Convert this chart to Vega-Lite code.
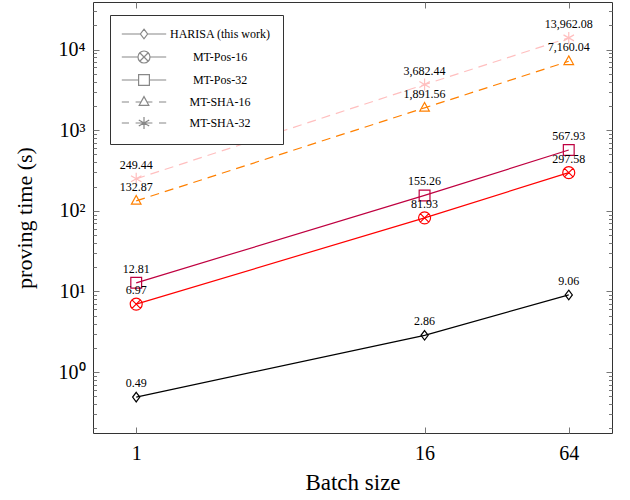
{
  "$schema": "https://vega.github.io/schema/vega-lite/v6.json",
  "width": 519,
  "height": 431,
  "autosize": "none",
  "padding": {"left": 93, "top": 2, "right": 18, "bottom": 67},
  "background": "white",
  "config": {
    "font": "Liberation Serif",
    "view": {"stroke": "#333", "strokeWidth": 1},
    "axis": {
      "grid": false,
      "domain": false,
      "ticks": true,
      "tickColor": "#777",
      "tickWidth": 1,
      "zindex": 1,
      "labelColor": "#000",
      "titleColor": "#000",
      "labelFontSize": 20,
      "titleFontSize": 22,
      "titleFontWeight": "normal",
      "labelFont": "Liberation Serif",
      "titleFont": "Liberation Serif",
      "labelOverlap": false,
      "labelFlush": false
    },
    "legend": {
      "title": null,
      "orient": "none",
      "legendX": 17,
      "legendY": 13,
      "padding": 12,
      "symbolOffset": 15,
      "symbolSize": 144,
      "symbolOpacity": 1,
      "symbolStrokeWidth": 1.2,
      "symbolFillColor": "transparent",
      "labelOffset": 69,
      "labelAlign": "center",
      "labelFont": "Liberation Serif",
      "labelFontSize": 12,
      "labelColor": "#000",
      "rowPadding": 6,
      "strokeColor": "#333",
      "fillColor": "white",
      "cornerRadius": 0
    }
  },
  "data": {
    "values": [
      {"series": "HARISA (this work)", "batch": 1, "time": 0.49},
      {"series": "HARISA (this work)", "batch": 16, "time": 2.86},
      {"series": "HARISA (this work)", "batch": 64, "time": 9.06},
      {"series": "MT-Pos-16", "batch": 1, "time": 6.97},
      {"series": "MT-Pos-16", "batch": 16, "time": 81.93},
      {"series": "MT-Pos-16", "batch": 64, "time": 297.58},
      {"series": "MT-Pos-32", "batch": 1, "time": 12.81},
      {"series": "MT-Pos-32", "batch": 16, "time": 155.26},
      {"series": "MT-Pos-32", "batch": 64, "time": 567.93},
      {"series": "MT-SHA-16", "batch": 1, "time": 132.87},
      {"series": "MT-SHA-16", "batch": 16, "time": 1891.56},
      {"series": "MT-SHA-16", "batch": 64, "time": 7160.04},
      {"series": "MT-SHA-32", "batch": 1, "time": 249.44},
      {"series": "MT-SHA-32", "batch": 16, "time": 3682.44},
      {"series": "MT-SHA-32", "batch": 64, "time": 13962.08}
    ]
  },
  "layer": [
    {
      "transform": [{"filter": "indexof(datum.series, 'SHA') < 0"}],
      "mark": {"type": "line", "strokeWidth": 1.2},
      "encoding": {
        "x": {
          "field": "batch", "type": "quantitative",
          "scale": {"type": "log", "domain": [0.66, 97], "nice": false},
          "axis": {"orient": "bottom", "values": [1, 16, 64], "offset": -6, "tickSize": 6, "labelPadding": 10, "title": "Batch size", "titleFontSize": 23, "titleY": 55, "titleBaseline": "middle"}
        },
        "y": {
          "field": "time", "type": "quantitative",
          "scale": {"type": "log", "domain": [0.1758, 38900], "nice": false},
          "axis": {
            "orient": "left",
            "values": [1, 10, 100, 1000, 10000],
            "offset": -6,
            "tickSize": 6,
            "labelPadding": 8,
            "labelExpr": "datum.value==1?'10⁰':datum.value==10?'10¹':datum.value==100?'10²':datum.value==1000?'10³':'10⁴'",
            "title": "proving time (s)",
            "titleX": -75,
            "titleY": 215.5,
            "titleBaseline": "middle",
            "titleAngle": 270
          }
        },
        "stroke": {
          "field": "series", "type": "nominal",
          "scale": {"domain": ["HARISA (this work)", "MT-Pos-16", "MT-Pos-32", "MT-SHA-16", "MT-SHA-32"], "range": ["#000000", "#ff0000", "#bf0040", "#ff8000", "#ffbfbf"]},
          "legend": null
        }
      }
    },
    {
      "transform": [{"filter": "indexof(datum.series, 'SHA') >= 0"}],
      "mark": {"type": "line", "strokeWidth": 1.2, "strokeDash": [9, 6]},
      "encoding": {
        "x": {"field": "batch", "type": "quantitative", "scale": {"type": "log", "domain": [0.66, 97], "nice": false}, "axis": null},
        "y": {"field": "time", "type": "quantitative", "scale": {"type": "log", "domain": [0.1758, 38900], "nice": false}, "axis": null},
        "stroke": {
          "field": "series", "type": "nominal",
          "scale": {"domain": ["HARISA (this work)", "MT-Pos-16", "MT-Pos-32", "MT-SHA-16", "MT-SHA-32"], "range": ["#000000", "#ff0000", "#bf0040", "#ff8000", "#ffbfbf"]},
          "legend": null
        }
      }
    },
    {
      "mark": {"type": "point", "filled": false, "strokeWidth": 1.2, "size": 144, "opacity": 1},
      "encoding": {
        "x": {"field": "batch", "type": "quantitative", "scale": {"type": "log", "domain": [0.66, 97], "nice": false}, "axis": null},
        "y": {"field": "time", "type": "quantitative", "scale": {"type": "log", "domain": [0.1758, 38900], "nice": false}, "axis": null},
        "stroke": {
          "field": "series", "type": "nominal",
          "scale": {"domain": ["HARISA (this work)", "MT-Pos-16", "MT-Pos-32", "MT-SHA-16", "MT-SHA-32"], "range": ["#000000", "#ff0000", "#bf0040", "#ff8000", "#ffbfbf"]},
          "legend": null
        },
        "shape": {
          "field": "series", "type": "nominal",
          "scale": {"domain": ["HARISA (this work)", "MT-Pos-16", "MT-Pos-32", "MT-SHA-16", "MT-SHA-32"], "range": ["M0,-0.8L0.6,0L0,0.8L-0.6,0Z", "M-1,0A1,1 0 1,0 1,0A1,1 0 1,0 -1,0M-0.71,-0.71L0.71,0.71M-0.71,0.71L0.71,-0.71", "M-0.9,-0.9L0.9,-0.9L0.9,0.9L-0.9,0.9Z", "M0,-0.9L0.8,0.55L-0.8,0.55Z", "M0,-1L0,1M-0.87,-0.5L0.87,0.5M-0.87,0.5L0.87,-0.5"]},
          "legend": null
        }
      }
    },
    {
      "mark": {"type": "point", "filled": false, "strokeWidth": 1.2, "size": 144, "opacity": 0},
      "encoding": {
        "x": {"field": "batch", "type": "quantitative", "scale": {"type": "log", "domain": [0.66, 97], "nice": false}, "axis": null},
        "y": {"field": "time", "type": "quantitative", "scale": {"type": "log", "domain": [0.1758, 38900], "nice": false}, "axis": null},
        "color": {
          "field": "series", "type": "nominal",
          "scale": {"domain": ["HARISA (this work)", "MT-Pos-16", "MT-Pos-32", "MT-SHA-16", "MT-SHA-32"], "range": ["#000000", "#ff0000", "#bf0040", "#ff8000", "#ffbfbf"]},
          "legend": {"title": null, "orient": "none", "legendX": 17, "legendY": 13}
        },
        "shape": {
          "field": "series", "type": "nominal",
          "scale": {"domain": ["HARISA (this work)", "MT-Pos-16", "MT-Pos-32", "MT-SHA-16", "MT-SHA-32"], "range": [
            "M-3.7,0L-0.6,0M0.6,0L3.7,0M0,-0.8L0.6,0L0,0.8L-0.6,0Z",
            "M-3.7,0L-1,0M1,0L3.7,0M-1,0A1,1 0 1,0 1,0A1,1 0 1,0 -1,0M-0.71,-0.71L0.71,0.71M-0.71,0.71L0.71,-0.71",
            "M-3.7,0L-0.9,0M0.9,0L3.7,0M-0.9,-0.9L0.9,-0.9L0.9,0.9L-0.9,0.9Z",
            "M-3.7,0L-2.5,0M-1.4,0L-0.5,0M0.5,0L1.4,0M2.5,0L3.7,0M0,-0.9L0.8,0.55L-0.8,0.55Z",
            "M-3.7,0L-2.5,0M-1.4,0L1.4,0M2.5,0L3.7,0M0,-1L0,1M-0.87,-0.5L0.87,0.5M-0.87,0.5L0.87,-0.5"
          ]},
          "legend": {"title": null, "orient": "none", "legendX": 17, "legendY": 13}
        }
      }
    },
    {
      "mark": {"type": "text", "dy": -10, "baseline": "alphabetic", "fontSize": 12, "color": "#000", "font": "Liberation Serif"},
      "encoding": {
        "x": {"field": "batch", "type": "quantitative", "scale": {"type": "log", "domain": [0.66, 97], "nice": false}, "axis": null},
        "y": {"field": "time", "type": "quantitative", "scale": {"type": "log", "domain": [0.1758, 38900], "nice": false}, "axis": null},
        "text": {"field": "time", "type": "quantitative", "format": ",.2f"}
      }
    },
    {
      "mark": {"type": "point", "opacity": 0},
      "encoding": {
        "x": {
          "field": "batch", "type": "quantitative",
          "scale": {"type": "log", "domain": [0.66, 97], "nice": false},
          "axis": {"orient": "top", "values": [1, 16, 64], "offset": -6, "tickSize": 6, "labels": false, "title": null}
        },
        "y": {
          "field": "time", "type": "quantitative",
          "scale": {"type": "log", "domain": [0.1758, 38900], "nice": false},
          "axis": {"orient": "right", "values": [1, 10, 100, 1000, 10000], "offset": -6, "tickSize": 6, "labels": false, "title": null}
        }
      }
    },
    {
      "mark": {"type": "point", "opacity": 0},
      "encoding": {
        "x": {"field": "batch", "type": "quantitative", "scale": {"type": "log", "domain": [0.66, 97], "nice": false}, "axis": null},
        "y": {
          "field": "time", "type": "quantitative",
          "scale": {"type": "log", "domain": [0.1758, 38900], "nice": false},
          "axis": {"orient": "left", "values": [0.2,0.3,0.4,0.5,0.6,0.7,0.8,0.9,2,3,4,5,6,7,8,9,20,30,40,50,60,70,80,90,200,300,400,500,600,700,800,900,2000,3000,4000,5000,6000,7000,8000,9000,20000,30000], "offset": -3.5, "tickSize": 3.5, "labels": false, "title": null}
        }
      }
    },
    {
      "mark": {"type": "point", "opacity": 0},
      "encoding": {
        "x": {"field": "batch", "type": "quantitative", "scale": {"type": "log", "domain": [0.66, 97], "nice": false}, "axis": null},
        "y": {
          "field": "time", "type": "quantitative",
          "scale": {"type": "log", "domain": [0.1758, 38900], "nice": false},
          "axis": {"orient": "right", "values": [0.2,0.3,0.4,0.5,0.6,0.7,0.8,0.9,2,3,4,5,6,7,8,9,20,30,40,50,60,70,80,90,200,300,400,500,600,700,800,900,2000,3000,4000,5000,6000,7000,8000,9000,20000,30000], "offset": -3.5, "tickSize": 3.5, "labels": false, "title": null}
        }
      }
    }
  ],
  "resolve": {"axis": {"x": "independent", "y": "independent"}, "scale": {"shape": "independent"}}
}
